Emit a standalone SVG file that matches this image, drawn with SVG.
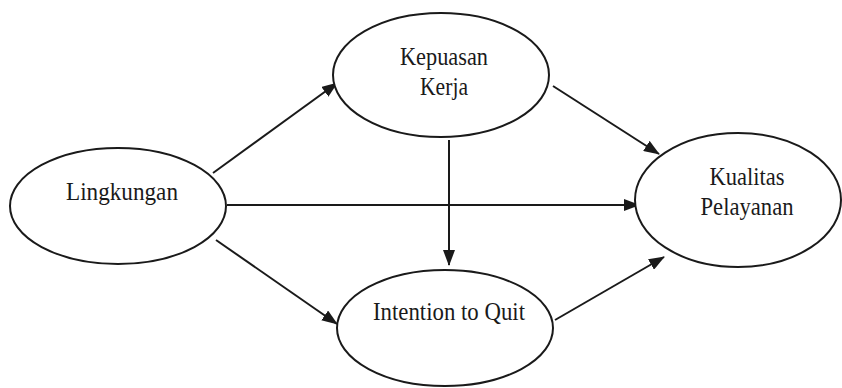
<svg xmlns="http://www.w3.org/2000/svg" width="842" height="388" viewBox="0 0 842 388">
<style>
.n{fill:#fff;stroke:#1a1a1a;stroke-width:2}
.t{font-family:"Liberation Serif","Times New Roman",serif;font-size:25px;fill:#1a1a1a;text-anchor:middle}
.c{stroke:#1a1a1a;stroke-width:2;fill:none;marker-end:url(#ah)}
</style>
<defs>
<marker id="ah" markerWidth="16" markerHeight="12" refX="15" refY="6" orient="auto" markerUnits="userSpaceOnUse">
<path d="M0,0 L16,6 L0,12 Z" fill="#1a1a1a"/>
</marker>
</defs>
<rect width="842" height="388" fill="#fff"/>
<g id="connectors">
<line class="c" x1="213" y1="173" x2="337" y2="83"/>
<line class="c" x1="553" y1="86" x2="659" y2="154"/>
<line class="c" x1="227" y1="205" x2="639" y2="205"/>
<line class="c" x1="449" y1="140" x2="449" y2="265"/>
<line class="c" x1="216" y1="240" x2="337" y2="324"/>
<line class="c" x1="555" y1="320" x2="664" y2="257"/>
</g>
<g id="lingkungan">
<ellipse class="n" cx="118" cy="206" rx="108" ry="58"/>
<text class="t" x="122" y="200" textLength="112" lengthAdjust="spacingAndGlyphs">Lingkungan</text>
</g>
<g id="kepuasan">
<ellipse class="n" cx="441" cy="75" rx="108" ry="62"/>
<text class="t" x="444" y="65" textLength="88" lengthAdjust="spacingAndGlyphs">Kepuasan</text>
<text class="t" x="444" y="95" textLength="48" lengthAdjust="spacingAndGlyphs">Kerja</text>
</g>
<g id="intention">
<ellipse class="n" cx="445" cy="328" rx="108" ry="58"/>
<text class="t" x="449" y="320" textLength="152" lengthAdjust="spacingAndGlyphs">Intention to Quit</text>
</g>
<g id="kualitas">
<ellipse class="n" cx="738" cy="200" rx="103" ry="67"/>
<text class="t" x="747" y="185" textLength="75" lengthAdjust="spacingAndGlyphs">Kualitas</text>
<text class="t" x="747" y="215" textLength="93" lengthAdjust="spacingAndGlyphs">Pelayanan</text>
</g>
</svg>
